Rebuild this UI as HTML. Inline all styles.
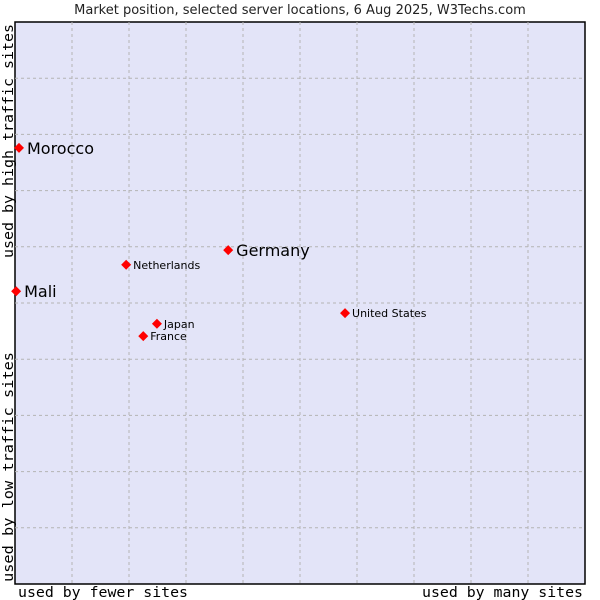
<!DOCTYPE html>
<html><head><meta charset="utf-8"><style>
body{margin:0;background:#fff;width:600px;height:600px;overflow:hidden}
svg{display:block}
</style></head><body>
<svg id="chart" width="600" height="600" xmlns="http://www.w3.org/2000/svg">
<text x="300" y="14" text-anchor="middle" font-family="DejaVu Sans, sans-serif" font-size="13" fill="#222">Market position, selected server locations, 6 Aug 2025, W3Techs.com</text>
<rect x="15" y="22" width="570" height="562" fill="#e3e4f8" stroke="#000" stroke-width="1.5"/>
<g id="grid"></g>
<g id="points"></g>
<text x="18" y="597" textLength="170" lengthAdjust="spacingAndGlyphs" font-family="DejaVu Sans Mono, monospace" font-size="14" fill="#000">used by fewer sites</text>
<text x="422" y="597" textLength="161" lengthAdjust="spacingAndGlyphs" font-family="DejaVu Sans Mono, monospace" font-size="14" fill="#000">used by many sites</text>
<text transform="translate(13,258) rotate(-90)" textLength="234" lengthAdjust="spacingAndGlyphs" font-family="DejaVu Sans Mono, monospace" font-size="14" fill="#000">used by high traffic sites</text>
<text transform="translate(13,582) rotate(-90)" textLength="230" lengthAdjust="spacingAndGlyphs" font-family="DejaVu Sans Mono, monospace" font-size="14" fill="#000">used by low traffic sites</text>
</svg>
<script>
const names = ["Morocco","Mali","Germany","Netherlands","Japan","France","United States"];
const xValues = [0.07,0.02,3.74,1.95,2.49,2.25,5.79];
const yValues = [7.76,5.21,5.94,5.68,4.63,4.41,4.82];
const large = [true,true,true,false,false,false,false];
const gridTicks = [1,2,3,4,5,6,7,8,9];

const X0=15,X1=585,Y0=584,Y1=22;
function sx(v){return X0+(X1-X0)*v/10;}
function sy(v){return Y0-(Y0-Y1)*v/10;}
const NS="http://www.w3.org/2000/svg";
const grid=document.getElementById('grid');
gridTicks.forEach(t=>{
  const v=document.createElementNS(NS,'line');
  
  
  v.setAttribute('x1',sx(t));v.setAttribute('x2',sx(t));v.setAttribute('y1',Y1);v.setAttribute('y2',Y0);
  v.setAttribute('stroke','#b4b4b4');v.setAttribute('stroke-dasharray','3,3');
  grid.appendChild(v);
  const h=document.createElementNS(NS,'line');
  
  
  h.setAttribute('y1',sy(t));h.setAttribute('y2',sy(t));h.setAttribute('x1',X0);h.setAttribute('x2',X1);
  h.setAttribute('stroke','#b4b4b4');h.setAttribute('stroke-dasharray','3,3');
  grid.appendChild(h);
});
const pts=document.getElementById('points');
names.forEach((n,i)=>{
  const x=sx(xValues[i]),y=sy(yValues[i]);
  const d=document.createElementNS(NS,'path');
  
  
  d.setAttribute('d',`M${x-5},${y} L${x},${y-5} L${x+5},${y} L${x},${y+5} Z`);
  d.setAttribute('fill','#f00');
  pts.appendChild(d);
  const t=document.createElementNS(NS,'text');
  
  
  t.setAttribute('x',x+(large[i]?8:7));
  t.setAttribute('y',y+(large[i]?6:4));
  t.setAttribute('font-family','DejaVu Sans, sans-serif');
  t.setAttribute('font-size',large[i]?'16':'11');
  t.setAttribute('fill','#000');
  t.textContent=n;
  pts.appendChild(t);
});
</script>
</body></html>
